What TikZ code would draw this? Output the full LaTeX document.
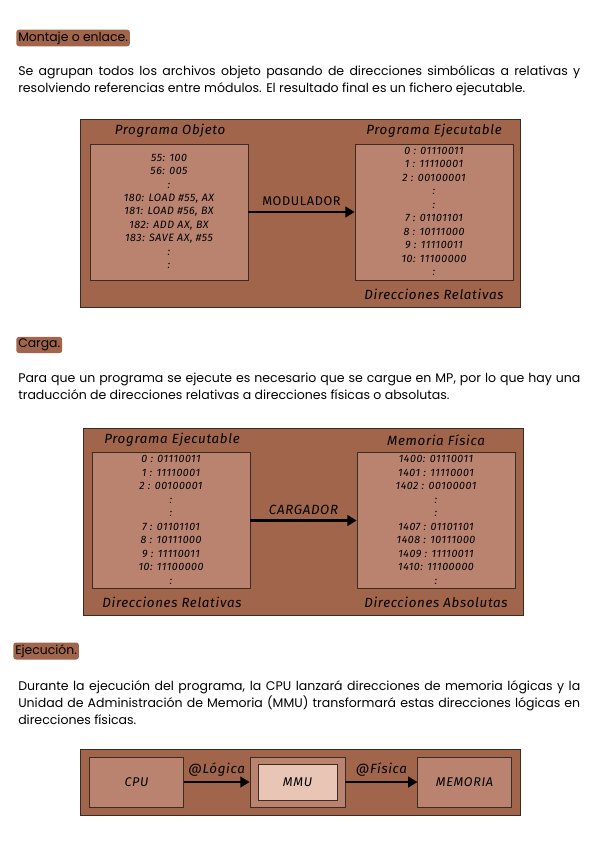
\documentclass[tikz,border=0pt]{standalone}
\usepackage{fontspec}
\setmainfont{Poppins}
\newfontfamily\diagfont[LetterSpace=5]{Fira Sans}
\usetikzlibrary{arrows.meta,positioning}
\definecolor{marron}{HTML}{A0654A}
\definecolor{claro}{HTML}{B98370}
\definecolor{rosa}{HTML}{E8C5B5}
\definecolor{borde}{HTML}{3B2B22}
\tikzset{
  fondo/.style={draw=borde, fill=marron, line width=0.6pt},
  caja/.style={draw=borde, fill=claro, line width=0.6pt, inner sep=0pt, minimum width=118.5pt, minimum height=102pt},
  cajita/.style={draw=borde, fill=claro, line width=0.6pt, inner sep=0pt, minimum width=70pt, minimum height=37.5pt, font=\diagfont\itshape\fontsize{9.5}{11}\selectfont},
  titulo/.style={font=\diagfont\itshape\fontsize{10}{12}\selectfont},
  lista/.style={font=\diagfont\itshape\fontsize{8}{10.1}\selectfont, align=center, inner sep=0pt},
  marca/.style={fill=marron, rounded corners=2pt, inner sep=1.5pt, anchor=west, font=\fontsize{9.3}{10}\selectfont},
  parrafo/.style={anchor=north west, text width=421.5pt, align=justify, inner sep=0pt, font=\fontsize{9.4}{12.75}\selectfont},
  flecha/.style={-{Triangle[length=7pt,width=8pt]}, line width=2.2pt}
}
\begin{document}
\begin{tikzpicture}[x=0.75pt,y=-0.75pt]
\useasboundingbox (0,0) rectangle (600,848);

\node[marca] (h1) at (16,38) {Montaje o enlace.};
\node[parrafo] (p1) at (18,65) {Se agrupan todos los archivos objeto pasando de direcciones simbólicas a relativas y\linebreak resolviendo referencias entre módulos. El resultado final es un fichero ejecutable.};

\draw[fondo] (80,119) rectangle (520,307);
\node[caja] (obj) at (169,212) {};
\node[caja] (ejec) at (434,212) {};
\node[titulo] at (170,131) {Programa Objeto};
\node[titulo] at (434,131) {Programa Ejecutable};
\node[titulo] at (434,294) {Direcciones Relativas};
\node[lista, below=7.5pt of obj.north] (l1) {55: 100\\56: 005\\:\\180: LOAD \#55, AX\\181: LOAD \#56, BX\\182: ADD AX, BX\\183: SAVE AX, \#55\\:\\:};
\node[lista, below=2.5pt of ejec.north] (l2) {0 : 01110011\\1 : 11110001\\2 : 00100001\\:\\:\\7 : 01101101\\8 : 10111000\\9 : 11110011\\10: 11100000\\:};
\draw[flecha] (obj.east) -- node[above, font=\diagfont\fontsize{9.5}{11}\selectfont] {MODULADOR} (ejec.west);

\node[marca] (h2) at (16,345) {Carga.};
\node[parrafo] (p2) at (18,373) {Para que un programa se ejecute es necesario que se cargue en MP, por lo que hay una\linebreak traducción de direcciones relativas a direcciones físicas o absolutas.};

\draw[fondo] (83,428) rectangle (523,615);
\node[caja] (ejec2) at (171,520.5) {};
\node[caja] (mem) at (436,520.5) {};
\node[titulo] at (172,440) {Programa Ejecutable};
\node[titulo] at (436,440) {Memoria Física};
\node[titulo] at (172,602) {Direcciones Relativas};
\node[titulo] at (436,602) {Direcciones Absolutas};
\node[lista, below=2.5pt of ejec2.north] (l3) {0 : 01110011\\1 : 11110001\\2 : 00100001\\:\\:\\7 : 01101101\\8 : 10111000\\9 : 11110011\\10: 11100000\\:};
\node[lista, below=2.5pt of mem.north] (l4) {1400: 01110011\\1401 : 11110001\\1402 : 00100001\\:\\:\\1407 : 01101101\\1408 : 10111000\\1409 : 11110011\\1410: 11100000\\:};
\draw[flecha] (ejec2.east) -- node[above, titulo] {CARGADOR} (mem.west);

\node[marca] (h3) at (13,651) {Ejecución.};
\node[parrafo] (p3) at (18,680) {Durante la ejecución del programa, la CPU lanzará direcciones de memoria lógicas y la\linebreak Unidad de Administración de Memoria (MMU) transformará estas direcciones lógicas en\linebreak direcciones físicas.};

\draw[fondo] (80,749) rectangle (520,815);
\node[cajita] (cpu) at (136.5,782) {CPU};
\node[cajita, minimum width=71.25pt] (mmu) at (297.5,782) {};
\node[cajita, fill=rosa, minimum width=59.25pt, minimum height=27pt] (mmuin) at (297.5,782) {MMU};
\node[cajita] (memoria) at (464.5,782) {MEMORIA};
\draw[flecha] (cpu.east) -- node[above, titulo] {@Lógica} (mmu.west);
\draw[flecha] (mmu.east) -- node[above, titulo] {@Física} (memoria.west);
\end{tikzpicture}
\end{document}
